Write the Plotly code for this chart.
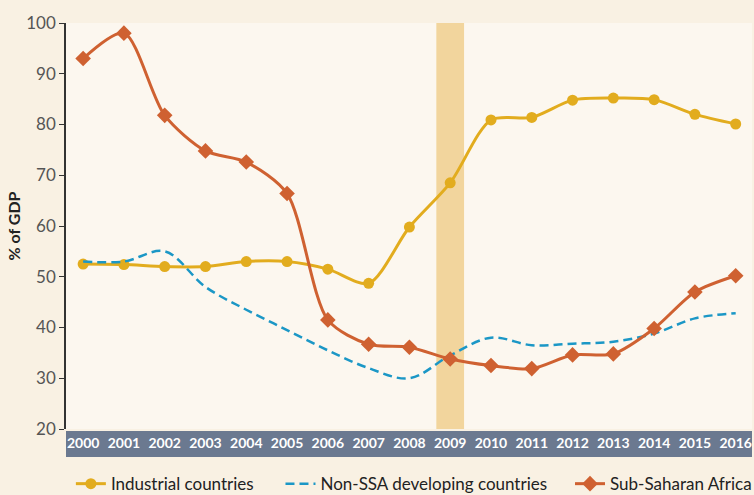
import plotly.graph_objects as go

years = [str(y) for y in range(2000, 2017)]
industrial = [52.5, 52.4, 52.0, 52.0, 53.0, 53.0, 51.5, 48.7, 59.8, 68.5, 80.9, 81.4, 84.8, 85.2, 84.9, 82.0, 80.1]
non_ssa = [53.0, 53.0, 55.0, 48.0, 43.5, 39.5, 35.5, 32.0, 30.0, 34.5, 38.0, 36.5, 36.8, 37.2, 38.8, 41.8, 42.8]
ssa = [93.0, 98.0, 81.8, 74.8, 72.6, 66.4, 41.5, 36.7, 36.1, 33.8, 32.5, 31.9, 34.6, 34.8, 39.8, 47.0, 50.2]
y_ticks = [20, 30, 40, 50, 60, 70, 80, 90, 100]
crisis_year = 9  # index of 2009

FONT = "Lato, Roboto, sans-serif"
C_IND = "#E2AC1E"
C_NON = "#1B97C6"
C_SSA = "#CF6131"

xs = list(range(len(years)))

fig = go.Figure()
fig.add_trace(go.Scatter(
    x=xs, y=industrial, name="Industrial countries", mode="lines+markers",
    line=dict(color=C_IND, width=3, shape="spline", smoothing=0.8),
    marker=dict(symbol="circle", size=11, color=C_IND), legend="legend"))
fig.add_trace(go.Scatter(
    x=xs, y=non_ssa, name="Non-SSA developing countries", mode="lines",
    line=dict(color=C_NON, width=2.5, shape="spline", smoothing=1.0, dash="9px,5px"),
    legend="legend2"))
fig.add_trace(go.Scatter(
    x=xs, y=ssa, name="Sub-Saharan Africa", mode="lines+markers",
    line=dict(color=C_SSA, width=3, shape="spline", smoothing=0.8),
    marker=dict(symbol="diamond", size=12, color=C_SSA), legend="legend3"))

fig.add_shape(type="rect", xref="x", yref="y", x0=crisis_year - 0.34, x1=crisis_year + 0.34,
              y0=20, y1=100, fillcolor="#F2D59D", line=dict(width=0), layer="below")
fig.add_shape(type="rect", xref="paper", yref="paper", x0=0, x1=1, y0=-0.005, y1=-0.069,
              fillcolor="#6B7990", line=dict(width=0), layer="below")

legend_common = dict(orientation="h", xref="container", yref="container",
                     yanchor="middle", y=0.022, xanchor="left",
                     bgcolor="rgba(0,0,0,0)", font=dict(family=FONT, size=17, color="#222"))
fig.update_layout(
    width=754, height=495,
    showlegend=True,
    margin=dict(l=66, r=2, t=23, b=66, autoexpand=False),
    paper_bgcolor="#F9F1E3", plot_bgcolor="#FCF7EF",
    font=dict(family=FONT),
    legend=dict(x=0.094, **legend_common),
    legend2=dict(x=0.372, **legend_common),
    legend3=dict(x=0.756, **legend_common),
    xaxis=dict(range=[-0.42, 16.4], tickmode="array", tickvals=xs, ticktext=years,
               showgrid=False, zeroline=False, showline=False, ticks="", tickangle=0,
               automargin=False,
               tickfont=dict(family=FONT, size=14, color="white", weight="bold"),
               ticklabelstandoff=4),
    yaxis=dict(range=[20, 100], tickvals=y_ticks, showgrid=False, zeroline=False,
               showline=True, linecolor="#333", linewidth=1.5, ticks="outside",
               ticklen=5, tickcolor="#333", automargin=False,
               tickfont=dict(family=FONT, size=17, color="#555"),
               title=dict(text="% of GDP", standoff=2,
                          font=dict(family=FONT, size=16, color="#222", weight="bold"))),
)

fig.write_html("out.html", config={"displayModeBar": False},
               post_script="document.body.style.margin='0';document.body.style.overflow='hidden';")
